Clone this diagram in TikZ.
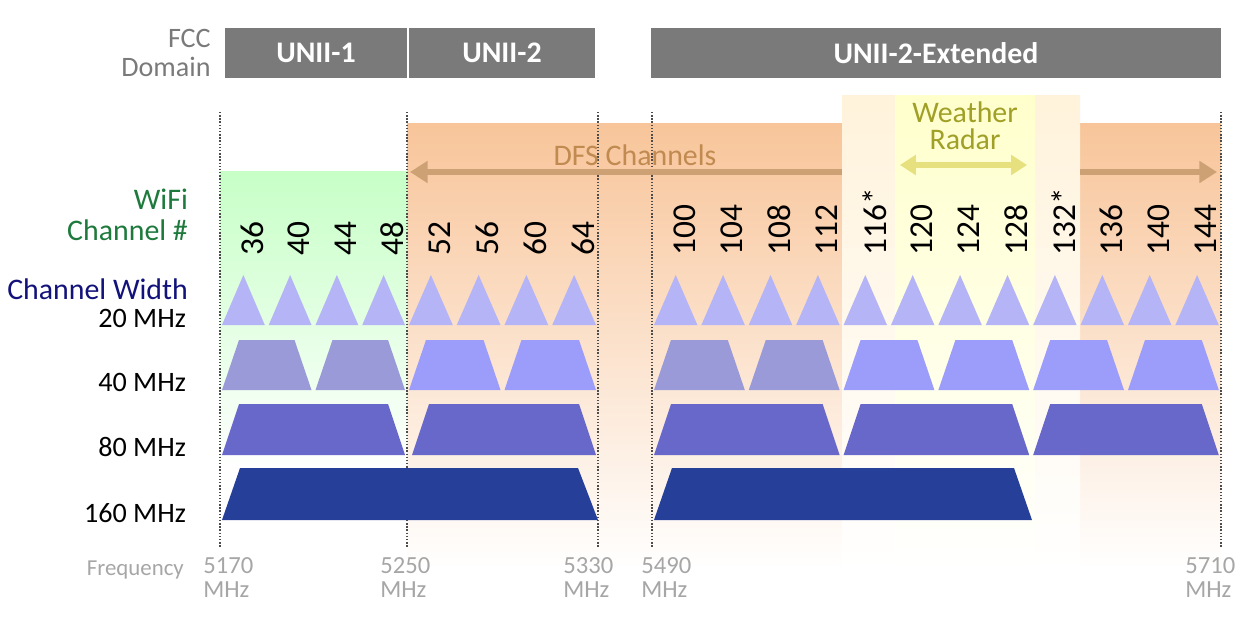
\documentclass[tikz,border=0pt]{standalone}
\usepackage{fontspec}
\setmainfont{Carlito}
\usetikzlibrary{arrows.meta}
\definecolor{fccgray}{HTML}{7A7A7A}
\definecolor{wifigreen}{HTML}{1E7A3C}
\definecolor{navy}{HTML}{12127A}
\definecolor{dfsorange}{HTML}{F8C59A}
\definecolor{dfstext}{HTML}{C08A50}
\definecolor{radartext}{HTML}{A0A028}
\definecolor{tri}{HTML}{B4B4F6}
\definecolor{trapdim}{HTML}{9A9AD8}
\definecolor{trap}{HTML}{9C9CFA}
\definecolor{eighty}{HTML}{6868CA}
\definecolor{onesixty}{HTML}{26409A}
\tikzset{
  fccbar/.style={fill=fccgray,draw=none},
  fcclabel/.style={text=white,font=\bfseries\fontsize{17}{18}\selectfont},
  chanlabel/.style={rotate=90,anchor=west,inner sep=0pt,font=\fontsize{19}{20}\selectfont},
  rowlabel/.style={anchor=east,inner sep=1pt,font=\fontsize{16}{17}\selectfont},
  freqlabel/.style={anchor=north west,align=left,inner sep=0pt,text=gray!70,font=\fontsize{14}{14}\selectfont},
  bound/.style={densely dotted,black!70,thick}
}
\begin{document}
\begin{tikzpicture}[x=0.02cm,y=-0.02cm]
  \useasboundingbox (0,0) rectangle (1249,625);
  % shaded backgrounds
  \shade[top color=dfsorange,bottom color=white] (407,124) rectangle (1221,570);
  \shade[top color=green!22,bottom color=white] (220,172) rectangle (407,470);
  \shade[top color=yellow!30!orange!14,bottom color=white] (842,96) rectangle (1080,570);
  \shade[top color=yellow!20,bottom color=white] (895,96) rectangle (1035,570);
  % FCC domain bar
  \draw[fccbar] (225,28) rectangle node[fcclabel] (u1) {UNII-1} (407,78);
  \draw[fccbar] (409,28) rectangle node[fcclabel] (u2) {UNII-2} (595,78);
  \draw[fccbar] (651,28) rectangle node[fcclabel] (u2e) {UNII-2-Extended} (1221,78);
  \node[anchor=east,align=right,text=fccgray,font=\fontsize{16}{17}\selectfont,inner sep=0pt] (fcc) at (211,53) {FCC\\Domain};
  % band edges
  \foreach \x in {220,407,598,652,1221}
    \draw[bound] (\x,112) -- (\x,548);
  % DFS and radar arrows
  \coordinate (dfsl) at (410,172);
  \coordinate (dfsm) at (842,172);
  \coordinate (dfsn) at (1080,172);
  \coordinate (dfsr) at (1217,172);
  \draw[dfstext!80,line width=3pt,-{Triangle[length=10pt,width=12pt]}] (dfsm) -- (dfsl);
  \draw[dfstext!80,line width=3pt,-{Triangle[length=10pt,width=12pt]}] (dfsn) -- (dfsr);
  \node[text=dfstext,font=\fontsize{17}{18}\selectfont] (dfs) at (635,155) {DFS Channels};
  \coordinate (wrl) at (900,165);
  \coordinate (wrr) at (1027,165);
  \draw[yellow!50!olive!45,line width=3pt,{Triangle[length=9pt,width=11pt]}-{Triangle[length=9pt,width=11pt]}] (wrl) -- (wrr);
  \node[text=radartext,align=center,font=\fontsize{17}{15.5}\selectfont] (radar) at (965,126) {Weather\\Radar};
  % channel numbers
  \foreach \x/\c in {243.4/36,290.1/40,336.9/44,383.6/48,430.9/52,478.6/56,526.4/60,574.1/64,
      675.7/100,723.1/104,770.5/108,817.9/112,865.3/116*,912.7/120,960.1/124,1007.5/128,
      1054.9/132*,1102.3/136,1149.7/140,1197.1/144}
    \node[chanlabel] (ch\c) at (\x+9,256) {\c};
  % 20 MHz
  \foreach \l/\w in {220/46.75,407/47.75,652/47.4}
    \foreach \i in {0,...,3}
      \fill[tri] (\l+\i*\w+2,325) -- (\l+\i*\w+\w/2,275) -- (\l+\i*\w+\w-2,325) -- cycle;
  \foreach \i in {4,...,11}
    \fill[tri] (652+\i*47.4+2,325) -- (652+\i*47.4+23.7,275) -- (652+\i*47.4+45.4,325) -- cycle;
  % 40 MHz
  \foreach \l/\w/\col in {220/46.75/trapdim,313.5/46.75/trapdim,407/47.75/trap,502.5/47.75/trap,
      652/47.4/trapdim,746.8/47.4/trapdim,841.6/47.4/trap,936.4/47.4/trap,1031.2/47.4/trap,1126/47.4/trap}
    \fill[\col] (\l+2,390) -- (\l+19,340) -- (\l+2*\w-19,340) -- (\l+2*\w-2,390) -- cycle;
  % 80 MHz
  \foreach \l/\w in {220/187,410/188,652/189.6,841.6/189.6,1031.2/189.6}
    \fill[eighty] (\l+2,455) -- (\l+19,404) -- (\l+\w-19,404) -- (\l+\w-2,455) -- cycle;
  % 160 MHz
  \fill[onesixty] (222,520) -- (240,468) -- (578,468) -- (598,520) -- cycle;
  \fill[onesixty] (654,520) -- (672,468) -- (1014,468) -- (1032,520) -- cycle;
  % row labels
  \node[rowlabel,align=right,text=wifigreen,font=\fontsize{17}{18}\selectfont] (wifi) at (190,215) {WiFi\\Channel \#};
  \node[rowlabel,text=navy,font=\fontsize{17}{18}\selectfont] (cw) at (190,289) {Channel Width};
  \node[rowlabel] (r20) at (188,318) {20 MHz};
  \node[rowlabel] (r40) at (188,382) {40 MHz};
  \node[rowlabel] (r80) at (188,447) {80 MHz};
  \node[rowlabel] (r160) at (188,513) {160 MHz};
  % frequencies
  \node[anchor=east,text=gray!70,font=\fontsize{13}{13}\selectfont] (freq) at (190,570) {Frequency};
  \node[freqlabel] (f1) at (203,557) {5170\\MHz};
  \node[freqlabel] (f2) at (380,557) {5250\\MHz};
  \node[freqlabel] (f3) at (563,557) {5330\\MHz};
  \node[freqlabel] (f4) at (641,557) {5490\\MHz};
  \node[freqlabel] (f5) at (1185,557) {5710\\MHz};
\end{tikzpicture}
\end{document}
